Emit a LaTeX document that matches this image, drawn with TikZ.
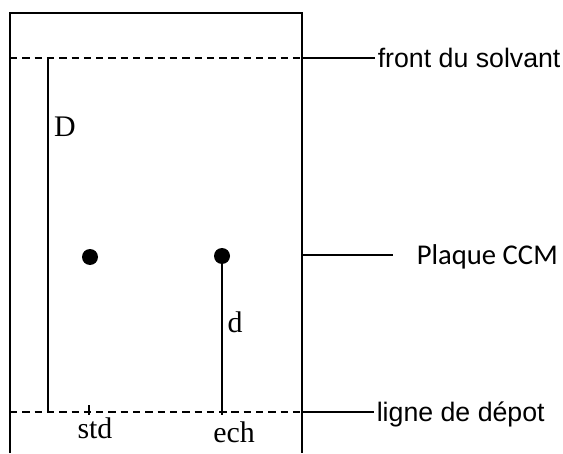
\documentclass[tikz,border=0pt]{standalone}
\usepackage{fontspec}
\setmainfont{Liberation Serif}
\newfontfamily\arialfont{Liberation Sans}
\newfontfamily\calibrifont{Carlito}
\usepackage{tikz}

\begin{document}
\begin{tikzpicture}[line width=1.2pt]
	\tikzstyle{spot}=[circle,fill=black,inner sep=0pt,minimum size=0.32cm]
	\tikzstyle{letter}=[font=\fontsize{17}{20}\selectfont, inner sep=1pt]
	\tikzstyle{legend}=[anchor=west, inner sep=1pt, text depth=0pt, font=\arialfont\fontsize{15.2}{18}\selectfont]
	\tikzstyle{front line}=[dash pattern=on 4.2pt off 2.8pt]
	
	\useasboundingbox (0,0) rectangle (11.26,9.06);
	
	% Draw the plate (open at the bottom)
	\draw (0.2,0) -- (0.2,8.80) -- (6.04,8.80) -- (6.04,0);
	
	% Draw the solvent front and the deposit line
	\coordinate (front left) at (0.2,7.90);
	\coordinate (front right) at (6.04,7.90);
	\coordinate (depot left) at (0.2,0.82);
	\coordinate (depot right) at (6.04,0.82);
	\coordinate (plate right) at (6.04,3.96);
	\draw[front line] (front left) -- (front right);
	\draw[front line] (depot left) -- (depot right);
	
	% Draw the spots and their ticks on the deposit line
	\node[spot] (spot std) at (1.80,3.92) {};
	\node[spot] (spot ech) at (4.44,3.94) {};
	\coordinate (std base) at (1.78,0.82);
	\coordinate (ech base) at (4.44,0.82);
	\draw ([yshift=0.14cm]std base) -- ([yshift=-0.06cm]std base);
	\draw ([yshift=0.14cm]ech base) -- ([yshift=-0.06cm]ech base);
	\node[letter] (std) at (1.90,0.50) {std};
	\node[letter] (ech) at (4.68,0.42) {ech};
	
	% Draw the distances D and d
	\coordinate (D top) at (0.96,7.90);
	\coordinate (D bottom) at (0.96,0.82);
	\draw (D top) -- (D bottom);
	\node[letter] (D) at (1.30,6.52) {D};
	\draw (spot ech.center) -- (ech base);
	\node[letter] (d) at (4.70,2.62) {d};
	
	% Annotate the plate
	\node[legend] (front) at (7.50,7.90) {front du solvant};
	\node[legend, font=\calibrifont\fontsize{16.3}{19}\selectfont] (plaque) at (8.28,3.96) {Plaque CCM};
	\node[legend] (depot) at (7.48,0.82) {ligne de dépot};
	\draw (front right) -- (front.west);
	\draw[shorten >=0.42cm] (plate right) -- (plaque.west);
	\draw (depot right) -- (depot.west);
\end{tikzpicture}
\end{document}
